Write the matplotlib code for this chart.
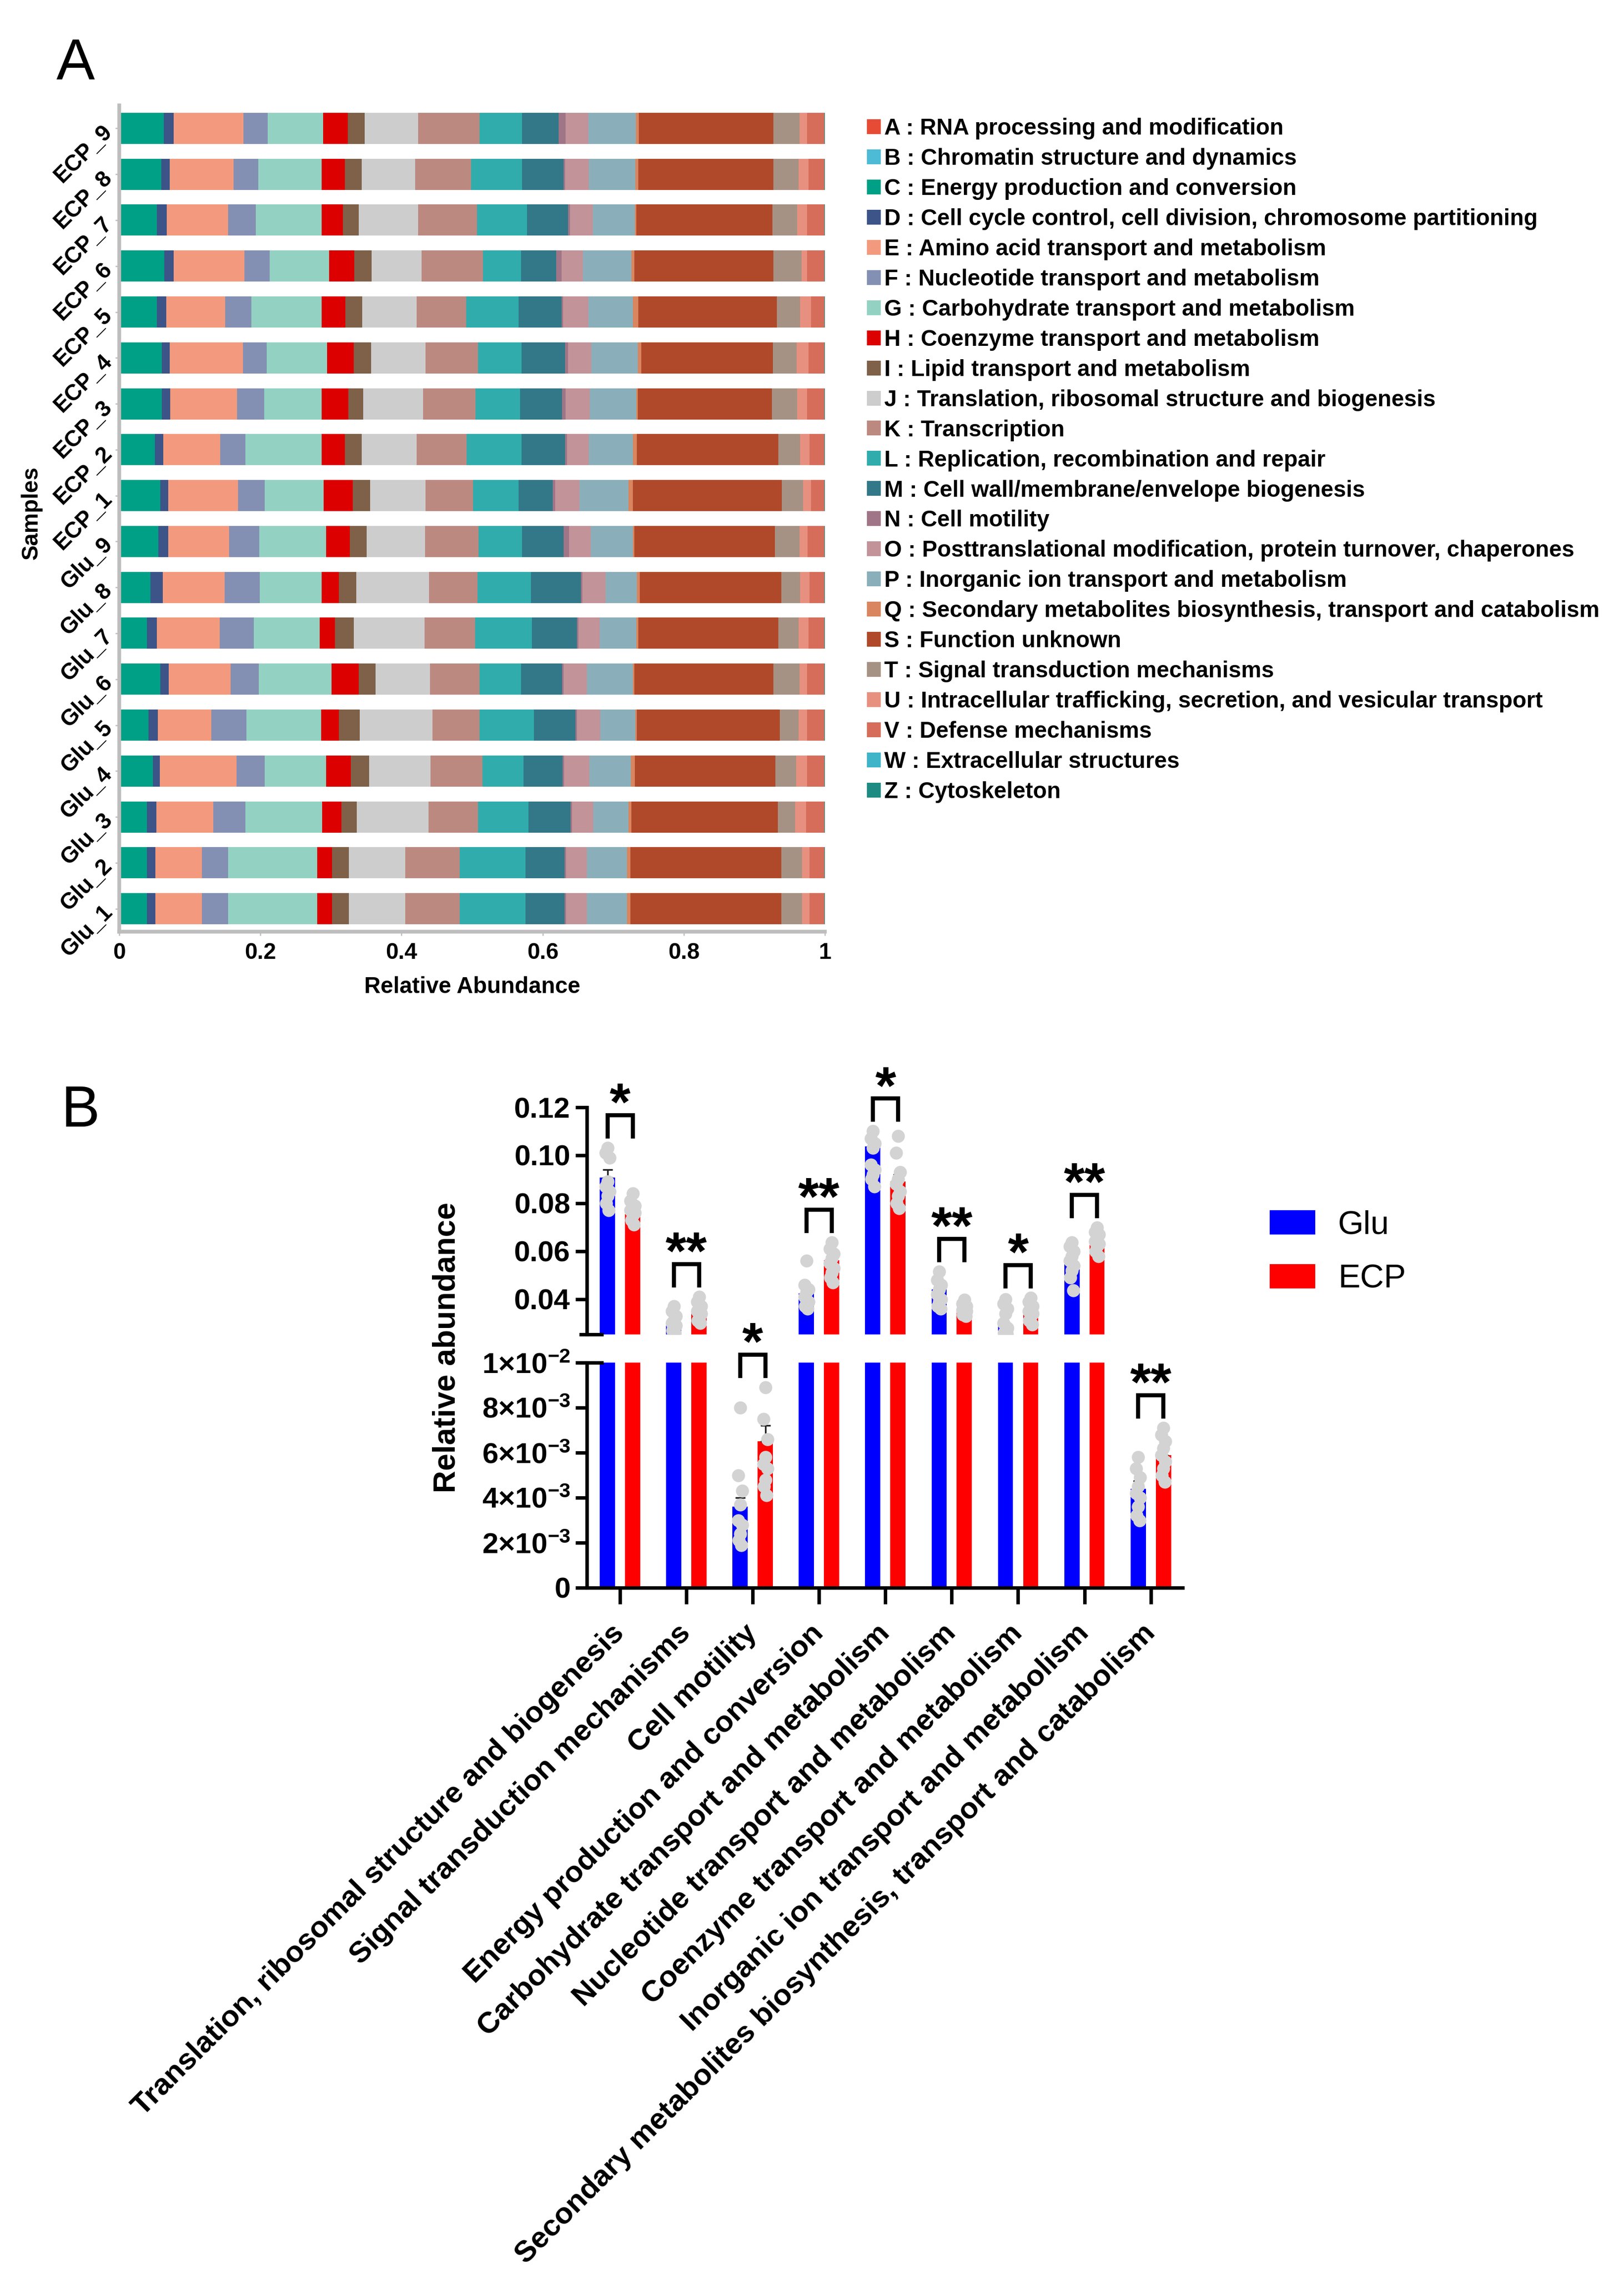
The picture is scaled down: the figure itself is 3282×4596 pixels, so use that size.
"""
COG functional profile: stacked relative abundance per sample (A)
and Glu vs ECP comparison of selected categories with broken y axis (B).
"""

import numpy as np
import matplotlib
matplotlib.use("Agg")
import matplotlib.pyplot as plt
from matplotlib.patches import Patch
from matplotlib.lines import Line2D

plt.rcParams["font.family"] = ["Liberation Sans", "DejaVu Sans"]
plt.rcParams["mathtext.fontset"] = "custom"
plt.rcParams["mathtext.rm"] = "Liberation Sans"
plt.rcParams["mathtext.bf"] = "Liberation Sans:bold"
plt.rcParams["mathtext.default"] = "bf"


# ── Panel A data ───────────────────────────────────────────────────────────────

samples = ["Glu_1", "Glu_2", "Glu_3", "Glu_4", "Glu_5", "Glu_6", "Glu_7", "Glu_8", "Glu_9",
           "ECP_1", "ECP_2", "ECP_3", "ECP_4", "ECP_5", "ECP_6", "ECP_7", "ECP_8", "ECP_9"]

cog_codes = list("ABCDEFGHIJKLMNOPQSTUVWZ")
cog_names = [
    "RNA processing and modification",
    "Chromatin structure and dynamics",
    "Energy production and conversion",
    "Cell cycle control, cell division, chromosome partitioning",
    "Amino acid transport and metabolism",
    "Nucleotide transport and metabolism",
    "Carbohydrate transport and metabolism",
    "Coenzyme transport and metabolism",
    "Lipid transport and metabolism",
    "Translation, ribosomal structure and biogenesis",
    "Transcription",
    "Replication, recombination and repair",
    "Cell wall/membrane/envelope biogenesis",
    "Cell motility",
    "Posttranslational modification, protein turnover, chaperones",
    "Inorganic ion transport and metabolism",
    "Secondary metabolites biosynthesis, transport and catabolism",
    "Function unknown",
    "Signal transduction mechanisms",
    "Intracellular trafficking, secretion, and vesicular transport",
    "Defense mechanisms",
    "Extracellular structures",
    "Cytoskeleton",
]
cog_colors = ["#E64B35", "#4DBBD5", "#00A087", "#3C5488", "#F39A7E", "#8490B3",
              "#93D2C2", "#DC0000", "#7E6148", "#CDCDCD", "#BC8981", "#31ACAC",
              "#327888", "#A07587", "#C29398", "#8AAFBA", "#D9855F", "#B0492A",
              "#A69284", "#E89080", "#D66D5B", "#3FB4C8", "#1E8B82"]

# abundance (%) in order A B C D E F G H I J K L M N O P Q S T U V W Z
glu_1 = [0.1, 0.05, 3.8, 1.2, 6.6, 3.7, 12.7, 2.1, 2.4, 8.0, 7.7, 9.4, 5.5, 0.2, 3.0, 5.7, 0.5, 21.4, 3.0, 1.0, 2.1, 0.05, 0.05]
glu_2 = [0.1, 0.05, 3.8, 1.2, 6.6, 3.7, 12.7, 2.1, 2.4, 8.0, 7.7, 9.4, 5.5, 0.2, 3.0, 5.7, 0.5, 21.4, 3.0, 1.0, 2.1, 0.05, 0.05]
glu_3 = [0.1, 0.05, 3.8, 1.3, 8.1, 4.6, 10.9, 2.7, 2.2, 10.2, 7.0, 7.2, 6.0, 0.2, 3.0, 5.0, 0.4, 20.8, 2.5, 1.5, 2.6, 0.05, 0.05]
glu_4 = [0.1, 0.05, 4.6, 1.0, 10.9, 4.0, 8.7, 3.5, 2.6, 8.7, 7.4, 5.8, 5.6, 0.2, 3.6, 5.9, 0.5, 20.0, 2.9, 1.6, 2.4, 0.05, 0.05]
glu_5 = [0.1, 0.05, 4.0, 1.3, 7.6, 5.0, 10.6, 2.5, 3.0, 10.3, 6.7, 7.7, 5.9, 0.2, 3.3, 5.0, 0.2, 20.3, 2.7, 1.2, 2.4, 0.05, 0.05]
glu_6 = [0.1, 0.05, 5.7, 1.2, 8.8, 4.0, 10.3, 3.9, 2.4, 7.7, 7.0, 5.9, 5.9, 0.2, 3.3, 6.5, 0.2, 19.8, 3.7, 1.1, 2.4, 0.05, 0.05]
glu_7 = [0.1, 0.05, 3.8, 1.4, 8.9, 4.9, 9.3, 2.2, 2.7, 10.0, 7.2, 8.1, 6.4, 0.2, 3.0, 5.2, 0.3, 19.9, 2.9, 1.4, 2.2, 0.05, 0.05]
glu_8 = [0.1, 0.05, 4.3, 1.7, 8.8, 5.0, 8.8, 2.4, 2.5, 10.3, 6.9, 7.6, 7.1, 0.2, 3.3, 4.4, 0.4, 20.1, 2.7, 1.3, 2.1, 0.05, 0.05]
glu_9 = [0.1, 0.05, 5.4, 1.4, 8.7, 4.3, 9.5, 3.4, 2.4, 8.3, 7.6, 6.2, 5.9, 0.8, 3.1, 6.0, 0.2, 20.0, 3.5, 1.1, 2.4, 0.05, 0.05]
ecp_1 = [0.1, 0.05, 5.7, 1.1, 9.9, 3.8, 8.4, 4.1, 2.5, 7.9, 6.7, 6.5, 4.8, 0.4, 3.4, 7.0, 0.6, 21.2, 3.0, 1.1, 1.9, 0.05, 0.05]
ecp_2 = [0.1, 0.05, 4.9, 1.2, 8.1, 3.6, 10.8, 3.3, 2.4, 7.8, 7.1, 7.8, 6.2, 0.3, 3.1, 6.2, 0.6, 20.1, 3.1, 1.3, 2.1, 0.05, 0.05]
ecp_3 = [0.1, 0.05, 5.9, 1.2, 9.4, 3.9, 8.1, 3.8, 2.1, 8.5, 7.4, 6.3, 6.0, 0.5, 3.4, 6.6, 0.2, 19.0, 3.6, 1.4, 2.4, 0.05, 0.05]
ecp_4 = [0.1, 0.05, 5.9, 1.1, 10.4, 3.4, 8.6, 3.8, 2.4, 7.8, 7.4, 6.2, 6.2, 0.4, 3.3, 6.6, 0.5, 18.7, 3.4, 1.7, 2.2, 0.05, 0.05]
ecp_5 = [0.1, 0.05, 5.2, 1.3, 8.4, 3.7, 10.0, 3.4, 2.4, 7.7, 7.0, 7.5, 6.1, 0.2, 3.6, 6.3, 0.8, 19.7, 3.3, 1.5, 1.9, 0.05, 0.05]
ecp_6 = [0.1, 0.05, 6.2, 1.4, 10.0, 3.6, 8.4, 3.6, 2.4, 7.1, 8.7, 5.4, 5.0, 0.8, 3.0, 6.9, 0.4, 19.7, 4.0, 0.8, 2.4, 0.05, 0.05]
ecp_7 = [0.1, 0.05, 5.2, 1.4, 8.7, 3.9, 9.3, 3.0, 2.3, 8.4, 8.3, 7.1, 5.8, 0.3, 3.2, 6.0, 0.2, 19.3, 3.5, 1.4, 2.4, 0.05, 0.05]
ecp_8 = [0.1, 0.05, 5.8, 1.2, 9.1, 3.5, 9.0, 3.3, 2.4, 7.6, 7.9, 7.3, 5.9, 0.2, 3.4, 6.6, 0.4, 19.2, 3.6, 1.4, 2.2, 0.05, 0.05]
ecp_9 = [0.1, 0.05, 6.2, 1.4, 9.9, 3.4, 7.9, 3.5, 2.4, 7.6, 8.7, 6.0, 5.2, 1.0, 3.2, 6.8, 0.4, 19.1, 3.7, 1.1, 2.4, 0.05, 0.05]


# ── Panel B data ───────────────────────────────────────────────────────────────

categories = [
    "Translation, ribosomal structure and biogenesis",
    "Signal transduction mechanisms",
    "Cell motility",
    "Energy production and conversion",
    "Carbohydrate transport and metabolism",
    "Nucleotide transport and metabolism",
    "Coenzyme transport and metabolism",
    "Inorganic ion transport and metabolism",
    "Secondary metabolites biosynthesis, transport and catabolism",
]
glu_mean = [0.0906, 0.0295, 0.0036, 0.0425, 0.1036, 0.0441, 0.0290, 0.0549, 0.0044]
ecp_mean = [0.0755, 0.0345, 0.0065, 0.0563, 0.0890, 0.0345, 0.0345, 0.0644, 0.0059]
glu_sem = [0.0035, 0.0012, 0.0004, 0.0020, 0.0025, 0.0017, 0.0010, 0.0020, 0.00035]
ecp_sem = [0.0015, 0.0012, 0.0007, 0.0020, 0.0030, 0.0008, 0.0012, 0.0013, 0.0003]
significance = ["*", "**", "*", "**", "*", "**", "*", "**", "**"]

glu_points = [
    [0.103, 0.101, 0.099, 0.089, 0.087, 0.085, 0.083, 0.080, 0.077],
    [0.037, 0.035, 0.033, 0.031, 0.030, 0.029, 0.028, 0.027, 0.026],
    [0.0080, 0.0050, 0.0043, 0.0037, 0.0030, 0.0028, 0.0024, 0.0021, 0.0019],
    [0.056, 0.046, 0.044, 0.043, 0.041, 0.039, 0.038, 0.037, 0.036],
    [0.110, 0.107, 0.105, 0.103, 0.096, 0.094, 0.092, 0.090, 0.087],
    [0.0516, 0.048, 0.046, 0.044, 0.042, 0.040, 0.039, 0.037, 0.036],
    [0.040, 0.038, 0.036, 0.034, 0.030, 0.028, 0.027, 0.026, 0.0255],
    [0.0636, 0.062, 0.060, 0.058, 0.056, 0.054, 0.052, 0.049, 0.0437],
    [0.0058, 0.0053, 0.0049, 0.0045, 0.0042, 0.0040, 0.0036, 0.0032, 0.0030],
]
ecp_points = [
    [0.084, 0.081, 0.079, 0.078, 0.077, 0.076, 0.075, 0.073, 0.071],
    [0.041, 0.039, 0.037, 0.036, 0.035, 0.034, 0.032, 0.031, 0.030],
    [0.0089, 0.0075, 0.0066, 0.0058, 0.0055, 0.0053, 0.0048, 0.0045, 0.0041],
    [0.0636, 0.061, 0.059, 0.057, 0.055, 0.053, 0.051, 0.049, 0.047],
    [0.108, 0.101, 0.093, 0.090, 0.088, 0.085, 0.083, 0.080, 0.078],
    [0.0397, 0.038, 0.037, 0.036, 0.0355, 0.035, 0.034, 0.0335, 0.033],
    [0.0406, 0.039, 0.037, 0.036, 0.035, 0.034, 0.033, 0.031, 0.0295],
    [0.0698, 0.068, 0.067, 0.066, 0.064, 0.063, 0.062, 0.060, 0.058],
    [0.0071, 0.0068, 0.0065, 0.0062, 0.0059, 0.0056, 0.0053, 0.0050, 0.0047],
]

top_ticks = [0.04, 0.06, 0.08, 0.10, 0.12]
top_ticklabels = ["0.04", "0.06", "0.08", "0.10", "0.12"]
bot_ticks = [0, 0.002, 0.004, 0.006, 0.008, 0.010]
bot_ticklabels = ["0", "2×10$^{-3}$", "4×10$^{-3}$", "6×10$^{-3}$", "8×10$^{-3}$", "1×10$^{-2}$"]

# ── Styles ─────────────────────────────────────────────────────────────────────

W_PX, H_PX, DPI = 3282, 4596, 300
GLU_COLOR = "#0000FF"
ECP_COLOR = "#FF0000"
POINT_COLOR = "#D3D3D3"
SPINE_GRAY = "#BDBDBD"
BAR_OFF = 0.19
BAR_W = 0.23
JITTER = [0.0, -0.03, 0.03, 0.0, -0.03, 0.03, 0.0, -0.02, 0.02]


def fx(px):
    return px / W_PX


def fy(px):
    return 1 - px / H_PX


fig = plt.figure(figsize=(W_PX / DPI, H_PX / DPI), dpi=DPI)

# ── Panel A ────────────────────────────────────────────────────────────────────

axA = fig.add_axes([fx(241), fy(1883), fx(1667) - fx(241), fy(213) - fy(1883)])
abund = np.array([glu_1, glu_2, glu_3, glu_4, glu_5, glu_6, glu_7, glu_8, glu_9,
                  ecp_1, ecp_2, ecp_3, ecp_4, ecp_5, ecp_6, ecp_7, ecp_8, ecp_9], dtype=float)
abund = abund / abund.sum(axis=1, keepdims=True)
ypos = np.arange(len(samples))
left = np.zeros(len(samples))
for j, (code, name, col) in enumerate(zip(cog_codes, cog_names, cog_colors)):
    axA.barh(ypos, abund[:, j], left=left, height=0.68, color=col,
             linewidth=0, label=f"{code} : {name}", zorder=2)
    left += abund[:, j]

axA.set_xlim(0, 1)
axA.set_ylim(-0.5, len(samples) - 0.5)
axA.set_xticks([0, 0.2, 0.4, 0.6, 0.8, 1.0])
axA.set_xticklabels(["0", "0.2", "0.4", "0.6", "0.8", "1"], fontsize=11, fontweight="bold")
axA.set_yticks(ypos)
axA.set_yticklabels(samples, fontsize=11, fontweight="bold", rotation=45,
                    ha="right", va="center", rotation_mode="anchor")
for side in ["top", "right"]:
    axA.spines[side].set_visible(False)
for side in ["left", "bottom"]:
    axA.spines[side].set_color(SPINE_GRAY)
    axA.spines[side].set_linewidth(1.8)
axA.tick_params(axis="both", length=2, width=0.6, color=SPINE_GRAY, pad=3)
axA.set_xlabel("Relative Abundance", fontsize=11, fontweight="bold", labelpad=6)
fig.text(fx(64), fy(1037), "Samples", fontsize=11, fontweight="bold",
         rotation=90, ha="center", va="center")

axA.legend(loc="upper left", bbox_to_anchor=(fx(1752), fy(238)),
           bbox_transform=fig.transFigure, frameon=False,
           prop={"size": 11, "weight": "bold"}, handlelength=0.61, handleheight=0.63,
           handletextpad=0.15, labelspacing=0.37, borderpad=0, borderaxespad=0)

fig.text(fx(114), fy(161), "A", fontsize=28, ha="left", va="baseline")
fig.text(fx(123), fy(2277), "B", fontsize=28, ha="left", va="baseline")

# ── Panel B ────────────────────────────────────────────────────────────────────

ax_top = fig.add_axes([fx(1186), fy(2697), fx(2390) - fx(1186), fy(2238) - fy(2697)])
ax_bot = fig.add_axes([fx(1186), fy(3209), fx(2390) - fx(1186), fy(2754) - fy(3209)])
xg = np.arange(len(categories))

for ax in (ax_top, ax_bot):
    ax.bar(xg - BAR_OFF, glu_mean, width=BAR_W, color=GLU_COLOR, linewidth=0, zorder=2)
    ax.bar(xg + BAR_OFF, ecp_mean, width=BAR_W, color=ECP_COLOR, linewidth=0, zorder=2)
    ax.errorbar(xg - BAR_OFF, glu_mean, yerr=[np.zeros(len(xg)), glu_sem], fmt="none",
                ecolor="#222222", elinewidth=0.8, capsize=2.5, capthick=0.8, zorder=3)
    ax.errorbar(xg + BAR_OFF, ecp_mean, yerr=[np.zeros(len(xg)), ecp_sem], fmt="none",
                ecolor="#222222", elinewidth=0.8, capsize=2.5, capthick=0.8, zorder=3)
    for i in range(len(categories)):
        ax.scatter(i - BAR_OFF + np.array(JITTER), glu_points[i], s=40,
                   color=POINT_COLOR, linewidths=0, zorder=4)
        ax.scatter(i + BAR_OFF + np.array(JITTER), ecp_points[i], s=40,
                   color=POINT_COLOR, linewidths=0, zorder=4)
    ax.set_xlim(-0.5, 8.48)
    ax.spines["top"].set_visible(False)
    ax.spines["right"].set_visible(False)
    ax.spines["left"].set_linewidth(1.7)
    ax.tick_params(axis="y", length=5.5, width=1.7, pad=2.5)
    ax.set_facecolor("none")

ax_top.set_ylim(0.0253, 0.12)
ax_top.spines["bottom"].set_visible(False)
ax_top.set_xticks([])
ax_top.set_yticks(top_ticks)
ax_top.set_yticklabels(top_ticklabels, fontsize=14, fontweight="bold")

ax_bot.set_ylim(0, 0.01)
ax_bot.spines["bottom"].set_linewidth(1.7)
ax_bot.set_yticks(bot_ticks)
ax_bot.set_yticklabels(bot_ticklabels, fontsize=14, fontweight="bold")
ax_bot.set_xticks(xg)
ax_bot.set_xticklabels(categories, fontsize=14.5, fontweight="bold", rotation=45,
                       ha="right", va="center", rotation_mode="anchor")
ax_bot.tick_params(axis="x", length=8, width=1.7, pad=12)

# break caps on the y axis
for ypx in (2697, 2754):
    fig.add_artist(Line2D([fx(1174), fx(1216)], [fy(ypx), fy(ypx)],
                          transform=fig.transFigure, color="black", lw=1.7))

fig.text(fx(903), fy(2723), "Relative abundance", fontsize=15, fontweight="bold",
         rotation=90, ha="center", va="center")


def add_bracket(ax, xc, y_max, label):
    """Prism-style significance bracket above the tallest point, offsets in pixels."""
    to_px = ax.transData.transform
    from_px = ax.transData.inverted().transform
    base = to_px((xc, y_max))[1]
    y_leg = from_px((0, base + 23))[1]
    y_top = from_px((0, base + 66))[1]
    y_txt = from_px((0, base + 56))[1]
    ax.plot([xc - BAR_OFF, xc - BAR_OFF, xc + BAR_OFF, xc + BAR_OFF],
            [y_leg, y_top, y_top, y_leg], color="black", lw=2.0,
            solid_joinstyle="miter", clip_on=False, zorder=5)
    ax.text(xc, y_txt, label, fontsize=26, fontweight="bold", ha="center",
            va="baseline", clip_on=False, zorder=5)


for i, lab in enumerate(significance):
    top_val = max(max(glu_points[i]), max(ecp_points[i]))
    ax = ax_bot if top_val < 0.02 else ax_top
    add_bracket(ax, i, top_val, lab)

ax_top.legend(handles=[Patch(color=GLU_COLOR), Patch(color=ECP_COLOR)],
              labels=["Glu", "ECP"], loc="upper left",
              bbox_to_anchor=(fx(2568), fy(2446)), bbox_transform=fig.transFigure,
              frameon=False, fontsize=16, handlelength=1.32, handleheight=0.66,
              handletextpad=0.72, labelspacing=0.70, borderpad=0, borderaxespad=0)

fig.savefig("out.png", dpi=DPI, facecolor="white")
